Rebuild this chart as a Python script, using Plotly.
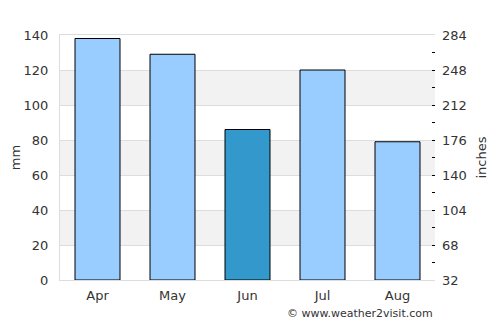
import plotly.graph_objects as go

months = ["Apr", "May", "Jun", "Jul", "Aug"]
rain_mm = [138, 129, 86, 120, 79]
bar_colors = ["#99ccff", "#99ccff", "#3399cc", "#99ccff", "#99ccff"]
left_ticks = [0, 20, 40, 60, 80, 100, 120, 140]
right_labels = ["32", "68", "104", "140", "176", "212", "248", "284"]
bands = [(20, 40), (60, 80), (100, 120)]

fig = go.Figure()
fig.add_trace(go.Bar(
    x=months, y=rain_mm, marker=dict(color=bar_colors, line=dict(color="black", width=1)),
    width=0.6, showlegend=False, hoverinfo="skip"))
fig.add_trace(go.Scatter(x=months, y=rain_mm, yaxis="y2", mode="markers",
                         marker=dict(opacity=0), showlegend=False, hoverinfo="skip"))

for lo, hi in bands:
    fig.add_shape(type="rect", xref="paper", yref="y", x0=0, x1=1, y0=lo, y1=hi,
                  fillcolor="#f2f2f2", line=dict(width=0), layer="below")

font = dict(family="DejaVu Sans", size=13, color="#333333")
fig.update_layout(
    width=500, height=325, margin=dict(l=60, r=65, t=35, b=45, autoexpand=False),
    paper_bgcolor="white", plot_bgcolor="white", font=font, bargap=0.4,
    xaxis=dict(showline=True, linecolor="#dddddd", mirror=True, ticks="outside",
               ticklen=3, tickcolor="rgba(0,0,0,0)",
               tickfont=font, showgrid=False, automargin=False),
    yaxis=dict(range=[0, 140], tickvals=left_ticks, showgrid=True, gridcolor="#dddddd",
               showline=True, linecolor="#dddddd", ticks="", ticklabelstandoff=8,
               zeroline=False, title=dict(text="mm", font=font, standoff=0), tickfont=font,
               automargin=False),
    yaxis2=dict(range=[0, 140], overlaying="y", side="right", tickvals=left_ticks,
                ticktext=right_labels, ticks="inside", ticklen=3, tickcolor="black",
                minor=dict(ticks="inside", ticklen=3, tickcolor="black", dtick=10, tick0=0),
                showgrid=False, zeroline=False, showline=False, automargin=False,
                title=dict(text="inches", font=font, standoff=11), tickfont=font,
                ticklabelstandoff=6),
    annotations=[dict(text="© www.weather2visit.com", xref="paper", yref="paper",
                      x=1, y=-0.135, xanchor="right", yanchor="middle", showarrow=False,
                      font=dict(family="DejaVu Sans", size=11, color="#333333"))],
)
fig.write_html("out.html")
